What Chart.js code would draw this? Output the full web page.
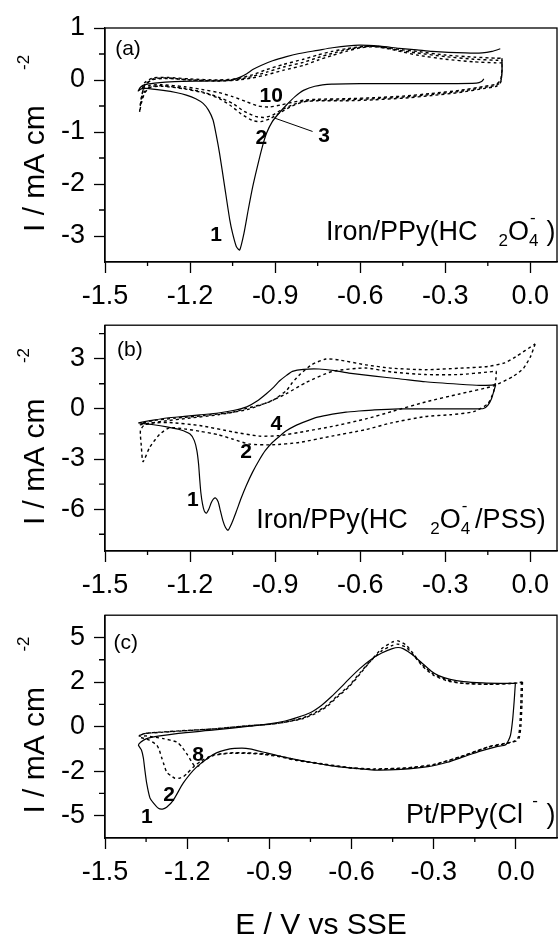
<!DOCTYPE html>
<html>
<head>
<meta charset="utf-8">
<script src="https://cdn.jsdelivr.net/npm/chart.js@4.4.1/dist/chart.umd.min.js"></script>
<style>
  html, body { margin: 0; padding: 0; background: #fff; }
  #wrap { position: relative; width: 559px; height: 938px; overflow: hidden; }
  canvas { position: absolute; left: 0; }
</style>
</head>
<body>
<div id="wrap">
  <canvas id="pa" width="559" height="320" style="top:0px"></canvas>
  <canvas id="pb" width="559" height="300" style="top:300px"></canvas>
  <canvas id="pc" width="559" height="348" style="top:590px"></canvas>
</div>
<script>
const FONT = "'Liberation Sans', Arial, Helvetica, sans-serif";

// ---- shared x axis (E / V vs SSE) ----
const xTicks = [-1.5, -1.2, -0.9, -0.6, -0.3, 0.0];
const xMinor = [-1.35, -1.05, -0.75, -0.45, -0.15];

// ---- panel (a): Iron/PPy(HC2O4-) ----
const aYTicks  = [1, 0, -1, -2, -3];
const aYLabels = ['1', '0', '-1', '-2', '-3'];
const aYMinor  = [0.5, -0.5, -1.5, -2.5];

const aCycle1 = [
  [-0.164, 0.02], [-0.172, -0.03], [-0.19, -0.06], [-0.3, -0.07], [-0.45, -0.07], [-0.6, -0.07],
  [-0.7, -0.08], [-0.76, -0.12], [-0.8, -0.2], [-0.83, -0.32], [-0.86, -0.48], [-0.885, -0.63],
  [-0.91, -0.8], [-0.93, -1.02], [-0.945, -1.28], [-0.962, -1.65], [-0.979, -2.05], [-0.995, -2.5],
  [-1.01, -2.95], [-1.025, -3.27], [-1.037, -3.2], [-1.05, -2.95], [-1.06, -2.69], [-1.078, -2.05],
  [-1.096, -1.41], [-1.108, -1.05], [-1.119, -0.77], [-1.135, -0.58], [-1.154, -0.45], [-1.18, -0.36],
  [-1.213, -0.29], [-1.25, -0.24], [-1.295, -0.2], [-1.354, -0.16], [-1.372, -0.17], [-1.383, -0.21],
  [-1.375, -0.14], [-1.36, -0.09], [-1.325, -0.06], [-1.255, -0.03], [-1.154, -0.02], [-1.06, -0.01],
  [-1.025, 0.05], [-1.0, 0.12], [-0.979, 0.2], [-0.95, 0.28], [-0.909, 0.37], [-0.86, 0.45],
  [-0.815, 0.51], [-0.75, 0.57], [-0.698, 0.62], [-0.604, 0.67], [-0.53, 0.65], [-0.463, 0.61],
  [-0.4, 0.58], [-0.346, 0.55], [-0.229, 0.52], [-0.17, 0.52], [-0.135, 0.55], [-0.106, 0.6]
];
const aCycle2 = [
  [-0.1, 0.33], [-0.1, 0.15], [-0.105, -0.05], [-0.12, -0.12], [-0.16, -0.16], [-0.25, -0.24],
  [-0.35, -0.3], [-0.45, -0.35], [-0.55, -0.38], [-0.65, -0.4], [-0.75, -0.4], [-0.8, -0.42],
  [-0.84, -0.5], [-0.88, -0.62], [-0.92, -0.75], [-0.95, -0.8], [-0.98, -0.78], [-1.02, -0.65],
  [-1.06, -0.48], [-1.1, -0.35], [-1.15, -0.25], [-1.22, -0.17], [-1.3, -0.12], [-1.34, -0.14],
  [-1.36, -0.25], [-1.372, -0.45], [-1.378, -0.62], [-1.372, -0.35], [-1.36, -0.1], [-1.33, 0.02],
  [-1.28, 0.04], [-1.2, 0.0], [-1.1, -0.02], [-1.03, 0.0], [-0.98, 0.04], [-0.93, 0.1],
  [-0.87, 0.19], [-0.8, 0.28], [-0.75, 0.38], [-0.7, 0.47], [-0.65, 0.55], [-0.6, 0.62],
  [-0.55, 0.64], [-0.5, 0.6], [-0.45, 0.54], [-0.4, 0.48], [-0.3, 0.4], [-0.2, 0.35],
  [-0.12, 0.33], [-0.1, 0.33]
];
const aCycle3 = [
  [-0.1, 0.38], [-0.1, 0.15], [-0.105, -0.04], [-0.12, -0.1], [-0.16, -0.14], [-0.25, -0.22],
  [-0.35, -0.28], [-0.45, -0.33], [-0.55, -0.36], [-0.65, -0.38], [-0.75, -0.39], [-0.8, -0.41],
  [-0.84, -0.48], [-0.88, -0.58], [-0.91, -0.68], [-0.94, -0.72], [-0.97, -0.7], [-1.01, -0.6],
  [-1.05, -0.45], [-1.1, -0.33], [-1.15, -0.24], [-1.22, -0.16], [-1.3, -0.11], [-1.34, -0.13],
  [-1.36, -0.22], [-1.372, -0.4], [-1.376, -0.5], [-1.37, -0.3], [-1.36, -0.1], [-1.33, 0.01],
  [-1.28, 0.03], [-1.2, 0.0], [-1.1, -0.01], [-1.03, 0.01], [-0.98, 0.07], [-0.93, 0.15],
  [-0.87, 0.25], [-0.8, 0.34], [-0.75, 0.43], [-0.7, 0.51], [-0.65, 0.58], [-0.6, 0.63],
  [-0.55, 0.65], [-0.5, 0.61], [-0.45, 0.56], [-0.4, 0.52], [-0.3, 0.45], [-0.2, 0.4],
  [-0.12, 0.38], [-0.1, 0.38]
];
const aCycle10 = [
  [-0.1, 0.42], [-0.1, 0.2], [-0.105, 0.0], [-0.12, -0.08], [-0.16, -0.12], [-0.25, -0.2],
  [-0.35, -0.26], [-0.45, -0.31], [-0.55, -0.34], [-0.65, -0.36], [-0.75, -0.37], [-0.8, -0.39],
  [-0.84, -0.43], [-0.88, -0.48], [-0.92, -0.52], [-0.96, -0.5], [-1.0, -0.42], [-1.05, -0.32],
  [-1.1, -0.24], [-1.16, -0.18], [-1.22, -0.13], [-1.3, -0.09], [-1.34, -0.1], [-1.36, -0.15],
  [-1.37, -0.2], [-1.36, -0.05], [-1.33, 0.04], [-1.28, 0.05], [-1.2, 0.02], [-1.1, 0.0],
  [-1.03, 0.03], [-0.98, 0.1], [-0.93, 0.2], [-0.87, 0.3], [-0.8, 0.4], [-0.75, 0.48],
  [-0.7, 0.55], [-0.65, 0.6], [-0.6, 0.64], [-0.55, 0.65], [-0.5, 0.62], [-0.45, 0.58],
  [-0.4, 0.55], [-0.3, 0.48], [-0.2, 0.44], [-0.12, 0.42], [-0.1, 0.42]
];

// ---- panel (b): Iron/PPy(HC2O4-/PSS) ----
const bYTicks  = [3, 0, -3, -6];
const bYLabels = ['3', '0', '-3', '-6'];
const bYMinor  = [4.5, 1.5, -1.5, -4.5, -7.5];

const bCycle1 = [
  [-0.122, 1.45], [-0.128, 1.1], [-0.137, 0.6], [-0.15, 0.2], [-0.165, 0.02], [-0.2, 0.0],
  [-0.3, 0.0], [-0.4, 0.0], [-0.463, 0.0], [-0.55, -0.06], [-0.604, -0.13], [-0.65, -0.2],
  [-0.698, -0.32], [-0.75, -0.5], [-0.792, -0.75], [-0.83, -1.02], [-0.862, -1.33], [-0.885, -1.65],
  [-0.909, -2.0], [-0.935, -2.5], [-0.956, -3.06], [-0.98, -3.8], [-1.002, -4.6], [-1.02, -5.35],
  [-1.037, -6.14], [-1.052, -6.8], [-1.066, -7.26], [-1.075, -7.1], [-1.084, -6.7], [-1.093, -6.1],
  [-1.101, -5.56], [-1.11, -5.33], [-1.118, -5.4], [-1.125, -5.6], [-1.134, -6.0], [-1.143, -6.24],
  [-1.15, -6.1], [-1.156, -5.7], [-1.162, -5.0], [-1.166, -4.2], [-1.17, -3.3], [-1.176, -2.5],
  [-1.185, -1.9], [-1.2, -1.51], [-1.235, -1.25], [-1.282, -1.08], [-1.329, -0.95], [-1.382, -0.84],
  [-1.33, -0.68], [-1.282, -0.55], [-1.22, -0.45], [-1.165, -0.36], [-1.1, -0.25], [-1.048, -0.1],
  [-1.0, 0.12], [-0.965, 0.45], [-0.932, 0.89], [-0.905, 1.3], [-0.885, 1.66], [-0.86, 2.0],
  [-0.839, 2.24], [-0.8, 2.36], [-0.745, 2.38], [-0.69, 2.28], [-0.64, 2.14], [-0.55, 1.95],
  [-0.463, 1.8], [-0.37, 1.62], [-0.25, 1.47], [-0.18, 1.4], [-0.135, 1.42], [-0.122, 1.45]
];
const bCycle2 = [
  [-0.12, 2.25], [-0.122, 1.7], [-0.13, 1.0], [-0.15, 0.3], [-0.2, -0.17], [-0.28, -0.35],
  [-0.37, -0.46], [-0.49, -0.84], [-0.58, -1.24], [-0.7, -1.63], [-0.815, -2.01], [-0.909, -2.15],
  [-0.99, -2.11], [-1.048, -1.82], [-1.1, -1.55], [-1.166, -1.34], [-1.22, -1.2], [-1.272, -1.13],
  [-1.307, -1.52], [-1.342, -2.29], [-1.366, -3.16], [-1.372, -2.2], [-1.375, -1.3], [-1.36, -0.95],
  [-1.3, -0.75], [-1.2, -0.55], [-1.1, -0.35], [-1.0, -0.05], [-0.932, 0.35], [-0.862, 0.89],
  [-0.792, 1.57], [-0.698, 2.24], [-0.58, 2.44], [-0.49, 2.2], [-0.37, 2.05], [-0.25, 2.05],
  [-0.15, 2.2], [-0.12, 2.25]
];
const bCycle4 = [
  [0.017, 3.88], [0.0, 3.1], [-0.024, 2.43], [-0.06, 1.95], [-0.13, 1.37], [-0.25, 0.89],
  [-0.37, 0.41], [-0.49, -0.17], [-0.58, -0.6], [-0.698, -1.05], [-0.792, -1.34], [-0.885, -1.6],
  [-0.956, -1.63], [-1.048, -1.38], [-1.166, -1.0], [-1.272, -0.82], [-1.34, -0.85], [-1.375, -0.95],
  [-1.37, -0.85], [-1.33, -0.7], [-1.25, -0.55], [-1.15, -0.4], [-1.05, -0.2], [-1.0, 0.03],
  [-0.95, 0.25], [-0.909, 0.5], [-0.86, 1.1], [-0.839, 1.57], [-0.81, 2.1], [-0.77, 2.65],
  [-0.721, 2.98], [-0.674, 2.92], [-0.58, 2.63], [-0.49, 2.43], [-0.37, 2.34], [-0.25, 2.43],
  [-0.15, 2.53], [-0.09, 2.75], [-0.052, 3.11], [0.017, 3.88]
];

// ---- panel (c): Pt/PPy(Cl-) ----
const cYTicks  = [4, 2, 0, -2, -4];
const cYLabels = ['5', '2', '0', '-2', '-5'];
const cYMinor  = [3, 1, -1, -3];

const cCycle1 = [
  [-0.002, 1.94], [-0.006, 1.2], [-0.012, 0.3], [-0.02, -0.4], [-0.036, -0.8], [-0.07, -0.9],
  [-0.13, -1.1], [-0.19, -1.35], [-0.25, -1.6], [-0.321, -1.8], [-0.42, -1.92], [-0.517, -1.95],
  [-0.6, -1.86], [-0.678, -1.75], [-0.75, -1.6], [-0.842, -1.38], [-0.91, -1.18], [-0.972, -1.0],
  [-1.0, -0.97], [-1.044, -1.0], [-1.105, -1.25], [-1.166, -1.82], [-1.214, -2.53], [-1.251, -3.31],
  [-1.275, -3.62], [-1.29, -3.7], [-1.305, -3.67], [-1.322, -3.45], [-1.336, -3.2], [-1.348, -2.53],
  [-1.355, -1.9], [-1.36, -1.4], [-1.367, -1.05], [-1.378, -0.83], [-1.37, -0.7], [-1.35, -0.55],
  [-1.3, -0.42], [-1.232, -0.3], [-1.1, -0.15], [-0.972, 0.02], [-0.9, 0.12], [-0.842, 0.25],
  [-0.8, 0.4], [-0.751, 0.62], [-0.71, 0.95], [-0.673, 1.35], [-0.64, 1.75], [-0.608, 2.15],
  [-0.57, 2.6], [-0.53, 3.0], [-0.49, 3.3], [-0.451, 3.5], [-0.43, 3.55], [-0.412, 3.5],
  [-0.38, 3.25], [-0.347, 2.9], [-0.31, 2.5], [-0.282, 2.29], [-0.24, 2.12], [-0.191, 2.02],
  [-0.12, 1.96], [-0.061, 1.94], [-0.002, 1.94]
];
const cCycle2 = [
  [0.024, 2.0], [0.022, 1.0], [0.018, 0.0], [0.012, -0.5], [0.0, -0.65], [-0.04, -0.75],
  [-0.1, -0.9], [-0.19, -1.3], [-0.3, -1.7], [-0.4, -1.85], [-0.517, -1.9], [-0.6, -1.85],
  [-0.7, -1.68], [-0.8, -1.5], [-0.86, -1.33], [-0.92, -1.22], [-0.983, -1.18], [-1.044, -1.18],
  [-1.105, -1.28], [-1.15, -1.55], [-1.178, -1.82], [-1.2, -2.1], [-1.214, -2.25], [-1.23, -2.32],
  [-1.245, -2.32], [-1.26, -2.2], [-1.275, -2.04], [-1.285, -1.7], [-1.293, -1.4], [-1.302, -1.05],
  [-1.311, -0.83], [-1.34, -0.6], [-1.372, -0.47], [-1.37, -0.38], [-1.35, -0.3], [-1.3, -0.25],
  [-1.2, -0.17], [-1.1, -0.1], [-0.97, 0.05], [-0.9, 0.1], [-0.842, 0.2], [-0.78, 0.35],
  [-0.73, 0.6], [-0.69, 0.9], [-0.65, 1.35], [-0.608, 1.8], [-0.57, 2.35], [-0.53, 2.95],
  [-0.49, 3.5], [-0.45, 3.8], [-0.43, 3.85], [-0.4, 3.65], [-0.37, 3.2], [-0.34, 2.75],
  [-0.3, 2.35], [-0.25, 2.1], [-0.2, 1.95], [-0.1, 1.9], [0.0, 1.95], [0.024, 2.0]
];
const cCycle8 = [
  [0.02, 2.0], [0.018, 1.0], [0.014, 0.0], [0.008, -0.5], [-0.01, -0.68], [-0.05, -0.8],
  [-0.1, -0.92], [-0.19, -1.3], [-0.3, -1.72], [-0.4, -1.87], [-0.517, -1.92], [-0.6, -1.86],
  [-0.7, -1.7], [-0.8, -1.52], [-0.86, -1.36], [-0.92, -1.25], [-0.983, -1.2], [-1.044, -1.2],
  [-1.105, -1.3], [-1.14, -1.55], [-1.16, -1.78], [-1.172, -1.78], [-1.185, -1.55], [-1.2, -1.25],
  [-1.22, -0.9], [-1.238, -0.69], [-1.287, -0.54], [-1.348, -0.42], [-1.375, -0.42], [-1.37, -0.36],
  [-1.35, -0.3], [-1.3, -0.26], [-1.2, -0.18], [-1.1, -0.1], [-0.97, 0.04], [-0.9, 0.1],
  [-0.842, 0.2], [-0.78, 0.38], [-0.73, 0.65], [-0.69, 0.95], [-0.65, 1.4], [-0.608, 1.85],
  [-0.57, 2.4], [-0.53, 2.95], [-0.49, 3.4], [-0.45, 3.65], [-0.43, 3.7], [-0.4, 3.55],
  [-0.37, 3.15], [-0.34, 2.7], [-0.3, 2.3], [-0.25, 2.05], [-0.2, 1.95], [-0.1, 1.9],
  [0.0, 1.95], [0.02, 2.0]
];

// text placed in data coordinates (E, I)
const aNotes = [
  { text: '(a)', e: -1.419, i: 0.6, size: 21 },
  { text: '1', e: -1.108, i: -2.98, bold: true },
  { text: '2', e: -0.949, i: -1.12, bold: true },
  { text: '3', e: -0.727, i: -1.09, bold: true },
  { text: '10', e: -0.914, i: -0.32, bold: true },
  { line: [[-0.768, -0.99], [-0.903, -0.73]] },
  { rich: [['Iron/PPy(HC', 0], [' ', 0, 1.3], ['2', 1], ['O', 0], ['4', 1, 0, '-'], [' ', 0, 0.5], [')', 0]], e: -0.721, i: -3.08 }
];
const bNotes = [
  { text: '(b)', e: -1.412, i: 3.51, size: 21 },
  { text: '4', e: -0.896, i: -0.94, bold: true },
  { text: '2', e: -1.002, i: -2.58, bold: true },
  { text: '1', e: -1.19, i: -5.47, bold: true },
  { rich: [['Iron/PPy(HC', 0], [' ', 0, 1.4], ['2', 1], ['O', 0], ['4', 1, 0, '-'], [' ', 0, 0.3], ['/PSS)', 0]], e: -0.967, i: -7.11 }
];
const cNotes = [
  { text: '(c)', e: -1.424, i: 3.74, size: 21 },
  { text: '1', e: -1.347, i: -4.06, bold: true },
  { text: '2', e: -1.266, i: -3.09, bold: true },
  { text: '8', e: -1.16, i: -1.3, bold: true },
  { rich: [['Pt/PPy(Cl', 0], [' ', 0, 0.5], ['', 0, 0, '-'], [' ', 0, 0.6], [')', 0]], e: -0.401, i: -4.32 }
];

Chart.defaults.font.family = FONT;
Chart.defaults.color = '#000';

function curve(points, dashed) {
  return {
    data: points.map(p => ({ x: p[0], y: p[1] })),
    showLine: true,
    borderColor: '#000',
    borderWidth: dashed ? 1.4 : 1.2,
    borderDash: dashed ? [3, 3] : [],
    pointRadius: 0,
    tension: 0.2,
    fill: false
  };
}

// frame, minor ticks, axis titles and in-plot labels
const cvFrame = {
  id: 'cvFrame',
  afterDraw(chart, args, o) {
    const { ctx, chartArea: a } = chart;
    const sx = chart.scales.x, sy = chart.scales.y;
    ctx.save();
    ctx.strokeStyle = '#000';
    ctx.fillStyle = '#000';
    ctx.lineWidth = 1.3;
    ctx.strokeRect(a.left, a.top, a.right - a.left, a.bottom - a.top);

    ctx.beginPath();
    o.minorX.forEach(v => {
      const px = sx.getPixelForValue(v);
      ctx.moveTo(px, a.bottom); ctx.lineTo(px, a.bottom + 4);
    });
    o.minorY.forEach(v => {
      const py = sy.getPixelForValue(v);
      ctx.moveTo(a.left, py); ctx.lineTo(a.left - 6, py);
    });
    ctx.stroke();

    o.notes.forEach(n => {
      if (n.line) {
        ctx.lineWidth = 1;
        ctx.beginPath();
        ctx.moveTo(sx.getPixelForValue(n.line[0][0]), sy.getPixelForValue(n.line[0][1]));
        ctx.lineTo(sx.getPixelForValue(n.line[1][0]), sy.getPixelForValue(n.line[1][1]));
        ctx.stroke();
        return;
      }
      const px = sx.getPixelForValue(n.e), py = sy.getPixelForValue(n.i);
      if (n.rich) {
        const fs = 27;
        let cx = px;
        ctx.textAlign = 'left';
        ctx.textBaseline = 'alphabetic';
        n.rich.forEach(([t, sub, gap, sup]) => {
          if (gap) { cx += gap * fs * 0.6; return; }
          let w = 0;
          if (t) {
            ctx.font = (sub ? Math.round(fs * 0.62) : fs) + 'px ' + FONT;
            ctx.fillText(t, cx, py + (sub ? fs * 0.22 : 0));
            w = ctx.measureText(t).width;
          }
          if (sup) {
            ctx.font = Math.round(fs * 0.62) + 'px ' + FONT;
            ctx.fillText(sup, cx + 1, py - fs * 0.62);
            w = Math.max(w, ctx.measureText(sup).width);
          }
          cx += w;
        });
        return;
      }
      ctx.font = (n.bold ? 'bold ' : '') + (n.size || 21) + 'px ' + FONT;
      ctx.textAlign = 'center';
      ctx.textBaseline = 'middle';
      ctx.fillText(n.text, px, py);
    });

    // y title: I / mA cm^-2
    const cy = (a.top + a.bottom) / 2;
    ctx.save();
    ctx.translate(44, cy + 87);
    ctx.rotate(-Math.PI / 2);
    ctx.textAlign = 'left';
    ctx.textBaseline = 'alphabetic';
    ctx.font = '30px ' + FONT;
    ctx.fillText('I / mA cm', 0, 0);
    ctx.font = '17px ' + FONT;
    ctx.fillText('-2', 162, -15);
    ctx.restore();

    if (o.xTitle) {
      ctx.font = '30px ' + FONT;
      ctx.textAlign = 'center';
      ctx.textBaseline = 'alphabetic';
      ctx.fillText(o.xTitle, 321, a.bottom + 96);
    }
    ctx.restore();
  }
};

function makePanel(id, p) {
  new Chart(document.getElementById(id), {
    type: 'scatter',
    data: { datasets: p.curves },
    plugins: [cvFrame],
    options: {
      responsive: false,
      animation: false,
      layout: { padding: { top: p.padTop, right: 2, left: 0, bottom: 0 } },
      plugins: {
        legend: { display: false },
        tooltip: { enabled: false },
        cvFrame: { minorX: xMinor, minorY: p.yMinor, notes: p.notes, xTitle: p.xTitle }
      },
      scales: {
        x: {
          type: 'linear',
          min: -1.5,
          max: p.xMax,
          afterBuildTicks: s => { s.ticks = xTicks.map(v => ({ value: v })); },
          afterFit: s => { s.height = p.xHeight; },
          ticks: {
            callback: v => v.toFixed(1),
            font: { size: 27 },
            color: '#000',
            padding: 7,
            maxRotation: 0,
            autoSkip: false
          },
          grid: { drawOnChartArea: false, tickLength: 11, tickColor: '#000', tickWidth: 1.3 },
          border: { color: '#000', width: 1.3 }
        },
        y: {
          type: 'linear',
          min: p.yMin,
          max: p.yMax,
          afterBuildTicks: s => { s.ticks = p.yTicks.map(v => ({ value: v })); },
          afterFit: s => { s.width = 105; },
          ticks: {
            callback: v => p.yLabels[p.yTicks.indexOf(v)],
            font: { size: 27 },
            color: '#000',
            padding: 9,
            autoSkip: false
          },
          grid: { drawOnChartArea: false, tickLength: 11, tickColor: '#000', tickWidth: 1.3 },
          border: { color: '#000', width: 1.3 }
        }
      }
    }
  });
}

makePanel('pa', {
  curves: [curve(aCycle1, false), curve(aCycle2, true), curve(aCycle3, true), curve(aCycle10, true)],
  yTicks: aYTicks, yLabels: aYLabels, yMinor: aYMinor, yMin: -3.5, yMax: 1,
  xMax: 0.094, padTop: 28, xHeight: 58, notes: aNotes
});
makePanel('pb', {
  curves: [curve(bCycle1, false), curve(bCycle2, true), curve(bCycle4, true)],
  yTicks: bYTicks, yLabels: bYLabels, yMinor: bYMinor, yMin: -8.5, yMax: 5,
  xMax: 0.094, padTop: 17, xHeight: 49, notes: bNotes
});
makePanel('pc', {
  curves: [curve(cCycle1, false), curve(cCycle2, true), curve(cCycle8, true)],
  yTicks: cYTicks, yLabels: cYLabels, yMinor: cYMinor, yMin: -5, yMax: 5,
  xMax: 0.15, padTop: 13, xHeight: 100, notes: cNotes, xTitle: 'E / V vs SSE'
});
</script>
</body>
</html>
